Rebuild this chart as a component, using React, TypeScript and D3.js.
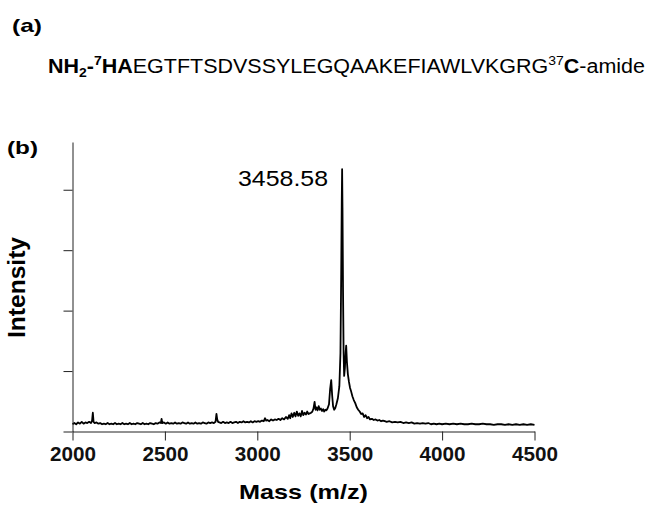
import React, { useEffect, useRef } from 'react';
import * as d3 from 'd3';

// x ticks (mass, m/z) and unlabeled intensity ticks
const massTicks = [2000, 2500, 3000, 3500, 4000, 4500];
const intensityTicks = [0, 1, 2, 3, 4];
const peakLabel = '3458.58';

// spectrum: [mass, intensity (a.u.)]
const spectrum: [number, number][] = [
  [2000, 0.12], [2010, 0.14], [2020, 0.12], [2030, 0.15], [2040, 0.13], [2050, 0.16], [2060, 0.13],
  [2070, 0.15], [2080, 0.14], [2090, 0.16], [2100, 0.14], [2106, 0.18], [2110, 0.31], [2114, 0.16],
  [2120, 0.14], [2130, 0.15], [2140, 0.13], [2150, 0.14], [2160, 0.12], [2170, 0.13], [2180, 0.12],
  [2190, 0.14], [2200, 0.12], [2210, 0.13], [2220, 0.12], [2230, 0.14], [2240, 0.12], [2250, 0.13],
  [2260, 0.12], [2270, 0.14], [2280, 0.12], [2290, 0.13], [2300, 0.12], [2310, 0.14], [2320, 0.12],
  [2330, 0.13], [2340, 0.12], [2350, 0.14], [2360, 0.13], [2370, 0.12], [2380, 0.14], [2390, 0.12],
  [2400, 0.13], [2410, 0.12], [2420, 0.14], [2430, 0.13], [2440, 0.12], [2450, 0.14], [2460, 0.13],
  [2470, 0.15], [2478, 0.14], [2482, 0.21], [2486, 0.14], [2495, 0.15], [2505, 0.13], [2515, 0.15],
  [2525, 0.13], [2535, 0.14], [2545, 0.13], [2555, 0.15], [2565, 0.13], [2575, 0.14], [2585, 0.13],
  [2595, 0.15], [2605, 0.14], [2615, 0.13], [2625, 0.15], [2635, 0.13], [2645, 0.14], [2655, 0.13],
  [2665, 0.15], [2675, 0.13], [2685, 0.14], [2695, 0.13], [2705, 0.15], [2715, 0.14], [2725, 0.13],
  [2735, 0.15], [2745, 0.14], [2755, 0.15], [2765, 0.14], [2774, 0.16], [2779, 0.29], [2783, 0.2],
  [2788, 0.16], [2795, 0.15], [2805, 0.14], [2815, 0.16], [2825, 0.14], [2835, 0.15], [2845, 0.14],
  [2855, 0.16], [2865, 0.14], [2875, 0.15], [2885, 0.16], [2895, 0.14], [2905, 0.16], [2915, 0.15],
  [2925, 0.17], [2935, 0.15], [2945, 0.16], [2955, 0.15], [2965, 0.17], [2975, 0.15], [2985, 0.17],
  [2995, 0.16], [3005, 0.17], [3015, 0.16], [3025, 0.18], [3035, 0.17], [3042, 0.22], [3048, 0.18],
  [3055, 0.19], [3065, 0.17], [3075, 0.2], [3085, 0.18], [3095, 0.2], [3105, 0.19], [3115, 0.21],
  [3125, 0.19], [3135, 0.22], [3145, 0.2], [3155, 0.24], [3165, 0.21], [3172, 0.27], [3178, 0.22],
  [3185, 0.3], [3192, 0.24], [3200, 0.31], [3207, 0.25], [3214, 0.33], [3221, 0.26], [3228, 0.3],
  [3235, 0.25], [3242, 0.34], [3249, 0.27], [3256, 0.31], [3263, 0.28], [3270, 0.33], [3277, 0.29],
  [3284, 0.3], [3291, 0.31], [3298, 0.33], [3304, 0.38], [3310, 0.49], [3315, 0.36], [3320, 0.4],
  [3326, 0.35], [3332, 0.42], [3338, 0.36], [3344, 0.38], [3350, 0.34], [3356, 0.37], [3362, 0.33],
  [3368, 0.36], [3374, 0.35], [3380, 0.38], [3388, 0.45], [3394, 0.7], [3400, 0.85], [3405, 0.6],
  [3410, 0.42], [3416, 0.36], [3422, 0.39], [3428, 0.45], [3436, 0.55], [3444, 0.75], [3450, 1.3],
  [3454, 2.6], [3457, 3.8], [3459, 4.34], [3461, 3.7], [3464, 2.3], [3467, 1.3], [3470, 0.92],
  [3474, 1.05], [3478, 1.3], [3481, 1.42], [3485, 1.15], [3490, 0.95], [3496, 0.82], [3502, 0.72],
  [3508, 0.66], [3515, 0.58], [3522, 0.52], [3530, 0.47], [3538, 0.4], [3546, 0.36], [3554, 0.33],
  [3562, 0.29], [3570, 0.3], [3578, 0.24], [3586, 0.27], [3594, 0.22], [3602, 0.24], [3610, 0.2],
  [3620, 0.21], [3630, 0.19], [3640, 0.2], [3650, 0.18], [3660, 0.19], [3670, 0.17], [3680, 0.18],
  [3690, 0.17], [3700, 0.16], [3715, 0.17], [3730, 0.15], [3745, 0.16], [3760, 0.15], [3775, 0.16],
  [3790, 0.14], [3805, 0.15], [3820, 0.14], [3835, 0.15], [3850, 0.13], [3865, 0.14], [3880, 0.13],
  [3895, 0.14], [3910, 0.13], [3925, 0.14], [3940, 0.12], [3955, 0.13], [3970, 0.12], [3985, 0.13],
  [4000, 0.12], [4020, 0.13], [4040, 0.12], [4060, 0.13], [4080, 0.12], [4100, 0.13], [4120, 0.12],
  [4140, 0.12], [4160, 0.13], [4180, 0.12], [4200, 0.12], [4220, 0.13], [4240, 0.12], [4260, 0.12],
  [4280, 0.11], [4300, 0.12], [4320, 0.12], [4340, 0.11], [4360, 0.12], [4380, 0.11], [4400, 0.12],
  [4420, 0.11], [4440, 0.12], [4460, 0.11], [4480, 0.12], [4500, 0.11],
];

const FONT = "'Liberation Sans', Arial, sans-serif";

const App = () => {
  const svgRef = useRef<SVGSVGElement>(null);

  useEffect(() => {
    const width = 648;
    const height = 506;

    const x = d3.scaleLinear().domain([2000, 4500]).range([72.5, 534.5]);
    const y = d3.scaleLinear().domain([0, 4.79]).range([431.5, 142]);

    const svg = d3.select(svgRef.current)
      .attr('width', width)
      .attr('height', height)
      .attr('viewBox', [0, 0, width, height])
      .style('font-family', FONT);
    svg.selectAll('*').remove();

    // spectrum
    svg.append('path')
      .datum(spectrum)
      .attr('fill', 'none')
      .attr('stroke', '#000')
      .attr('stroke-width', 1.8)
      .attr('stroke-linejoin', 'round')
      .attr('d', d3.line<[number, number]>().x(d => x(d[0])).y(d => y(d[1])));

    // x axis
    svg.append('g')
      .attr('transform', `translate(0,${y(0)})`)
      .call(d3.axisBottom(x).tickValues(massTicks).tickSize(9).tickSizeOuter(0).tickFormat(d3.format('d')))
      .call(g => g.select('.domain').attr('stroke', '#222'))
      .call(g => g.selectAll('.tick line').attr('stroke', '#222'))
      .call(g => g.selectAll('.tick text')
        .attr('y', 0).attr('dy', null)
        .attr('transform', 'translate(0,29.5)')
        .attr('fill', '#111')
        .style('font-family', FONT)
        .style('font-size', '20px')
        .style('font-weight', 'bold')
        .attr('textLength', 46)
        .attr('lengthAdjust', 'spacingAndGlyphs'));

    // y axis, no labels
    svg.append('g')
      .attr('transform', `translate(${x(2000)},0)`)
      .call(d3.axisLeft(y).tickValues(intensityTicks).tickSize(9).tickSizeOuter(0).tickFormat(() => ''))
      .call(g => g.select('.domain').attr('stroke', '#222'))
      .call(g => g.selectAll('.tick line').attr('stroke', '#222'));

    // axis titles
    svg.append('text')
      .attr('x', 303.5).attr('y', 499)
      .attr('text-anchor', 'middle')
      .attr('font-size', 21).attr('font-weight', 'bold')
      .attr('textLength', 129).attr('lengthAdjust', 'spacingAndGlyphs')
      .text('Mass (m/z)');

    svg.append('text')
      .attr('transform', 'translate(25,287.5) rotate(-90)')
      .attr('text-anchor', 'middle')
      .attr('font-size', 24).attr('font-weight', 'bold')
      .attr('textLength', 101).attr('lengthAdjust', 'spacingAndGlyphs')
      .text('Intensity');

    // peak label
    svg.append('text')
      .attr('x', 238).attr('y', 186)
      .attr('font-size', 22)
      .attr('textLength', 90).attr('lengthAdjust', 'spacingAndGlyphs')
      .text(peakLabel);

    // panel labels
    svg.append('text')
      .attr('x', 12).attr('y', 32)
      .attr('font-size', 19).attr('font-weight', 'bold')
      .attr('textLength', 30).attr('lengthAdjust', 'spacingAndGlyphs')
      .text('(a)');
    svg.append('text')
      .attr('x', 7).attr('y', 154)
      .attr('font-size', 19).attr('font-weight', 'bold')
      .attr('textLength', 31).attr('lengthAdjust', 'spacingAndGlyphs')
      .text('(b)');

    // peptide sequence
    const seq = svg.append('text')
      .attr('x', 48).attr('y', 73)
      .attr('font-size', 20)
      .attr('textLength', 597).attr('lengthAdjust', 'spacingAndGlyphs');
    seq.append('tspan').attr('font-weight', 'bold').text('NH');
    seq.append('tspan').attr('font-weight', 'bold').attr('font-size', 13).attr('dy', 4).text('2');
    seq.append('tspan').attr('font-weight', 'bold').attr('dy', -4).text('-');
    seq.append('tspan').attr('font-weight', 'bold').attr('font-size', 13).attr('dy', -8).text('7');
    seq.append('tspan').attr('font-weight', 'bold').attr('dy', 8).text('HA');
    seq.append('tspan').text('EGTFTSDVSSYLEGQAAKEFIAWLVKGRG');
    seq.append('tspan').attr('font-size', 13).attr('dy', -8).text('37');
    seq.append('tspan').attr('font-weight', 'bold').attr('dy', 8).text('C');
    seq.append('tspan').text('-amide');
  }, []);

  return (
    <svg ref={svgRef} style={{ position: 'absolute', left: 0, top: 0, display: 'block', background: '#fff' }}></svg>
  );
};

export default App;
